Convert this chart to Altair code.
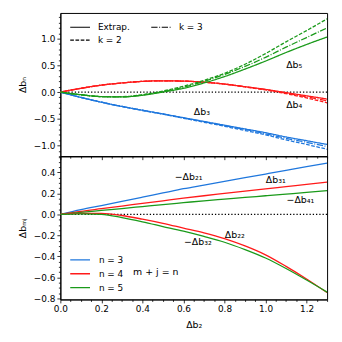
import altair as alt
import pandas as pd

# ---------------- data ----------------
xs = [0.0, 0.1, 0.2, 0.3, 0.4, 0.5, 0.6, 0.7, 0.8, 0.9, 1.0, 1.1, 1.2, 1.3]

# top panel: Delta b_n, three approximations
b3_ext = [0, -0.10, -0.19, -0.27, -0.34, -0.41, -0.48, -0.55, -0.62, -0.69, -0.76, -0.84, -0.91, -0.98]
b3_k3 = [0, -0.10, -0.19, -0.27, -0.34, -0.41, -0.485, -0.555, -0.63, -0.70, -0.78, -0.865, -0.94, -1.02]
b3_k2 = [0, -0.10, -0.19, -0.27, -0.345, -0.415, -0.49, -0.565, -0.64, -0.72, -0.80, -0.895, -0.98, -1.07]
b4_ext = [0, 0.07, 0.13, 0.17, 0.20, 0.21, 0.205, 0.185, 0.15, 0.10, 0.05, -0.01, -0.07, -0.13]
b4_k3 = [0, 0.07, 0.13, 0.17, 0.20, 0.21, 0.205, 0.185, 0.15, 0.10, 0.045, -0.02, -0.09, -0.165]
b4_k2 = [0, 0.07, 0.13, 0.17, 0.20, 0.21, 0.205, 0.185, 0.148, 0.095, 0.04, -0.03, -0.11, -0.20]
b5_ext = [0, -0.05, -0.085, -0.09, -0.06, 0.0, 0.07, 0.17, 0.29, 0.43, 0.58, 0.74, 0.89, 1.03]
b5_k3 = [0, -0.05, -0.085, -0.09, -0.055, 0.01, 0.09, 0.20, 0.33, 0.48, 0.65, 0.84, 1.02, 1.20]
b5_k2 = [0, -0.05, -0.085, -0.085, -0.05, 0.02, 0.11, 0.22, 0.35, 0.52, 0.72, 0.94, 1.15, 1.37]

# bottom panel: Delta b_mj
mb21 = [0, 0.045, 0.085, 0.125, 0.165, 0.205, 0.245, 0.28, 0.315, 0.35, 0.385, 0.42, 0.455, 0.488]
b31 = [0, 0.03, 0.055, 0.08, 0.105, 0.13, 0.155, 0.178, 0.2, 0.222, 0.244, 0.265, 0.286, 0.307]
mb41 = [0, 0.02, 0.038, 0.056, 0.075, 0.094, 0.112, 0.13, 0.146, 0.162, 0.178, 0.194, 0.21, 0.227]
b22 = [0, 0.01, 0.01, -0.01, -0.045, -0.085, -0.13, -0.175, -0.23, -0.30, -0.385, -0.495, -0.615, -0.745]
mb32 = [0, 0.005, 0.0, -0.03, -0.07, -0.115, -0.16, -0.21, -0.265, -0.335, -0.415, -0.515, -0.625, -0.74]

n_dom = ["n = 3", "n = 4", "n = 5"]
n_colors = ["#1f77dd", "#ff1a1a", "#1a9a1a"]
k_dom = ["Extrap.", "k = 2", "k = 3"]
k_dash = [[1, 0], [3.7, 1.6], [6.4, 1.6, 1, 1.6]]

top_lab_x = [1.14, 1.14, 0.69]
top_lab_y = [0.50, -0.25, -0.38]
top_lab_t = ["Δb₅", "Δb₄", "Δb₃"]

bot_lab_x = [0.625, 1.05, 1.17, 0.85, 0.67, 0.465]
bot_lab_y = [0.36, 0.33, 0.134, -0.20, -0.266, -0.547]
bot_lab_t = ["−Δb₂₁", "Δb₃₁", "−Δb₄₁", "Δb₂₂", "−Δb₃₂", "m + j = n"]

zero_level = [0.0]

x_ticks = [round(0.05 * i, 2) for i in range(27)]
top_y_ticks = [round(-1.2 + 0.1 * i, 2) for i in range(27)]
bot_y_ticks = [round(-0.8 + 0.05 * i, 2) for i in range(28)]

X_DOM = [0, 1.3]
TOP_DOM = [-1.2, 1.48]
BOT_DOM = [-0.81, 0.555]

# ---------------- tables ----------------
top_rows = []
for n, series in zip(n_dom, [(b3_ext, b3_k2, b3_k3), (b4_ext, b4_k2, b4_k3), (b5_ext, b5_k2, b5_k3)]):
    for k, vals in zip(k_dom, series):
        for xv, yv in zip(xs, vals):
            top_rows.append({"x": xv, "y": yv, "n": n, "k": k, "s": n + k})
top_df = pd.DataFrame(top_rows)

bot_rows = []
for name, n, vals in [("b21", "n = 3", mb21), ("b31", "n = 4", b31), ("b41", "n = 5", mb41),
                      ("b22", "n = 4", b22), ("b32", "n = 5", mb32)]:
    for xv, yv in zip(xs, vals):
        bot_rows.append({"x": xv, "y": yv, "n": n, "s": name})
bot_df = pd.DataFrame(bot_rows)

top_lab = pd.DataFrame({"x": top_lab_x, "y": top_lab_y, "t": top_lab_t})
bot_lab = pd.DataFrame({"x": bot_lab_x, "y": bot_lab_y, "t": bot_lab_t})
zero_df = pd.DataFrame({"y": zero_level})

FONT = "DejaVu Sans"


def is_mult(step):
    inv = round(1 / step)
    return f"abs(datum.value*{inv} - round(datum.value*{inv})) < 0.000001"


def tick_size(step):
    return {"condition": {"test": is_mult(step), "value": 3.5}, "value": 2}


def x_enc(show):
    axis = alt.Axis(values=x_ticks, tickSize=tick_size(0.2), grid=False,
                    labelOverlap=False, labelFlush=False, labelPadding=2, titlePadding=6,
                    labels=show,
                    title="Δb₂" if show else None,
                    labelExpr=f"{is_mult(0.2)} ? format(datum.value, '.1f') : ''")
    return alt.X("x:Q", scale=alt.Scale(domain=X_DOM, nice=False, zero=False), axis=axis)


def y_enc(dom, ticks, step, title):
    axis = alt.Axis(values=ticks, tickSize=tick_size(step), grid=False,
                    labelOverlap=False, labelFlush=False, labelPadding=2, titlePadding=6,
                    title=title,
                    labelExpr=f"{is_mult(step)} ? format(datum.value, '.1f') : ''")
    return alt.Y("y:Q", scale=alt.Scale(domain=dom, nice=False, zero=False), axis=axis)


W, H = 270, 145

# ---------------- top panel ----------------
ty = lambda: y_enc(TOP_DOM, top_y_ticks, 0.5, "Δbₙ")
top_lines = alt.Chart(top_df).mark_line(strokeWidth=1.3, interpolate="monotone", clip=True).encode(
    x=x_enc(False), y=ty(),
    color=alt.Color("n:N", scale=alt.Scale(domain=n_dom, range=n_colors), legend=None),
    strokeDash=alt.StrokeDash("k:N", scale=alt.Scale(domain=k_dom, range=k_dash),
                              legend=alt.Legend(title=None, orient="none", legendX=9, legendY=9,
                                                columns=2, symbolType="stroke", symbolSize=400,
                                                symbolStrokeWidth=1.2, symbolStrokeColor="black",
                                                clipHeight=11, rowPadding=2, columnPadding=20,
                                                labelOffset=7, labelFont=FONT, labelFontSize=9,
                                                labelColor="black", padding=0)),
    detail="s:N",
)
top_zero = alt.Chart(zero_df).mark_rule(color="black", strokeWidth=1.3, strokeDash=[1.3, 2]).encode(
    y=ty()
)
top_text = alt.Chart(top_lab).mark_text(font=FONT, fontSize=9.5, color="black").encode(
    x=x_enc(False), y=ty(), text="t:N"
)
top = alt.layer(top_zero, top_lines, top_text).properties(width=W, height=H)

# ---------------- bottom panel ----------------
by = lambda: y_enc(BOT_DOM, bot_y_ticks, 0.2, "Δbₘⱼ")
bot_lines = alt.Chart(bot_df).mark_line(strokeWidth=1.3, interpolate="monotone", clip=True).encode(
    x=x_enc(True), y=by(),
    color=alt.Color("n:N", scale=alt.Scale(domain=n_dom, range=n_colors),
                    legend=alt.Legend(title=None, orient="none", legendX=9, legendY=99,
                                      symbolType="stroke", symbolSize=400, symbolStrokeWidth=1.3,
                                      clipHeight=12, rowPadding=2, labelOffset=8,
                                      labelFont=FONT, labelFontSize=9, labelColor="black",
                                      padding=0)),
    detail="s:N",
)
bot_zero = alt.Chart(zero_df).mark_rule(color="black", strokeWidth=1.3, strokeDash=[1.3, 2]).encode(
    y=by()
)
bot_text = alt.Chart(bot_lab).mark_text(font=FONT, fontSize=9.5, color="black").encode(
    x=x_enc(True), y=by(), text="t:N"
)
bottom = alt.layer(bot_zero, bot_lines, bot_text).properties(width=W, height=H)

chart = alt.vconcat(top, bottom, spacing=0, bounds="flush").resolve_scale(
    x="independent", y="independent", color="independent", strokeDash="independent"
).resolve_legend(color="independent", strokeDash="independent").properties(
    padding={"left": 9, "top": 2, "right": 5, "bottom": 5}, background="white"
).configure_view(stroke="black", strokeWidth=1).configure_axis(
    labelFont=FONT, labelFontSize=9, labelColor="black", titleFont=FONT, titleFontSize=9.5,
    titleFontWeight="normal", titleColor="black", tickColor="black", domainColor="black",
    tickWidth=0.8, domainWidth=1
)

chart.save("out.html", embed_options={"renderer": "svg", "actions": False})
